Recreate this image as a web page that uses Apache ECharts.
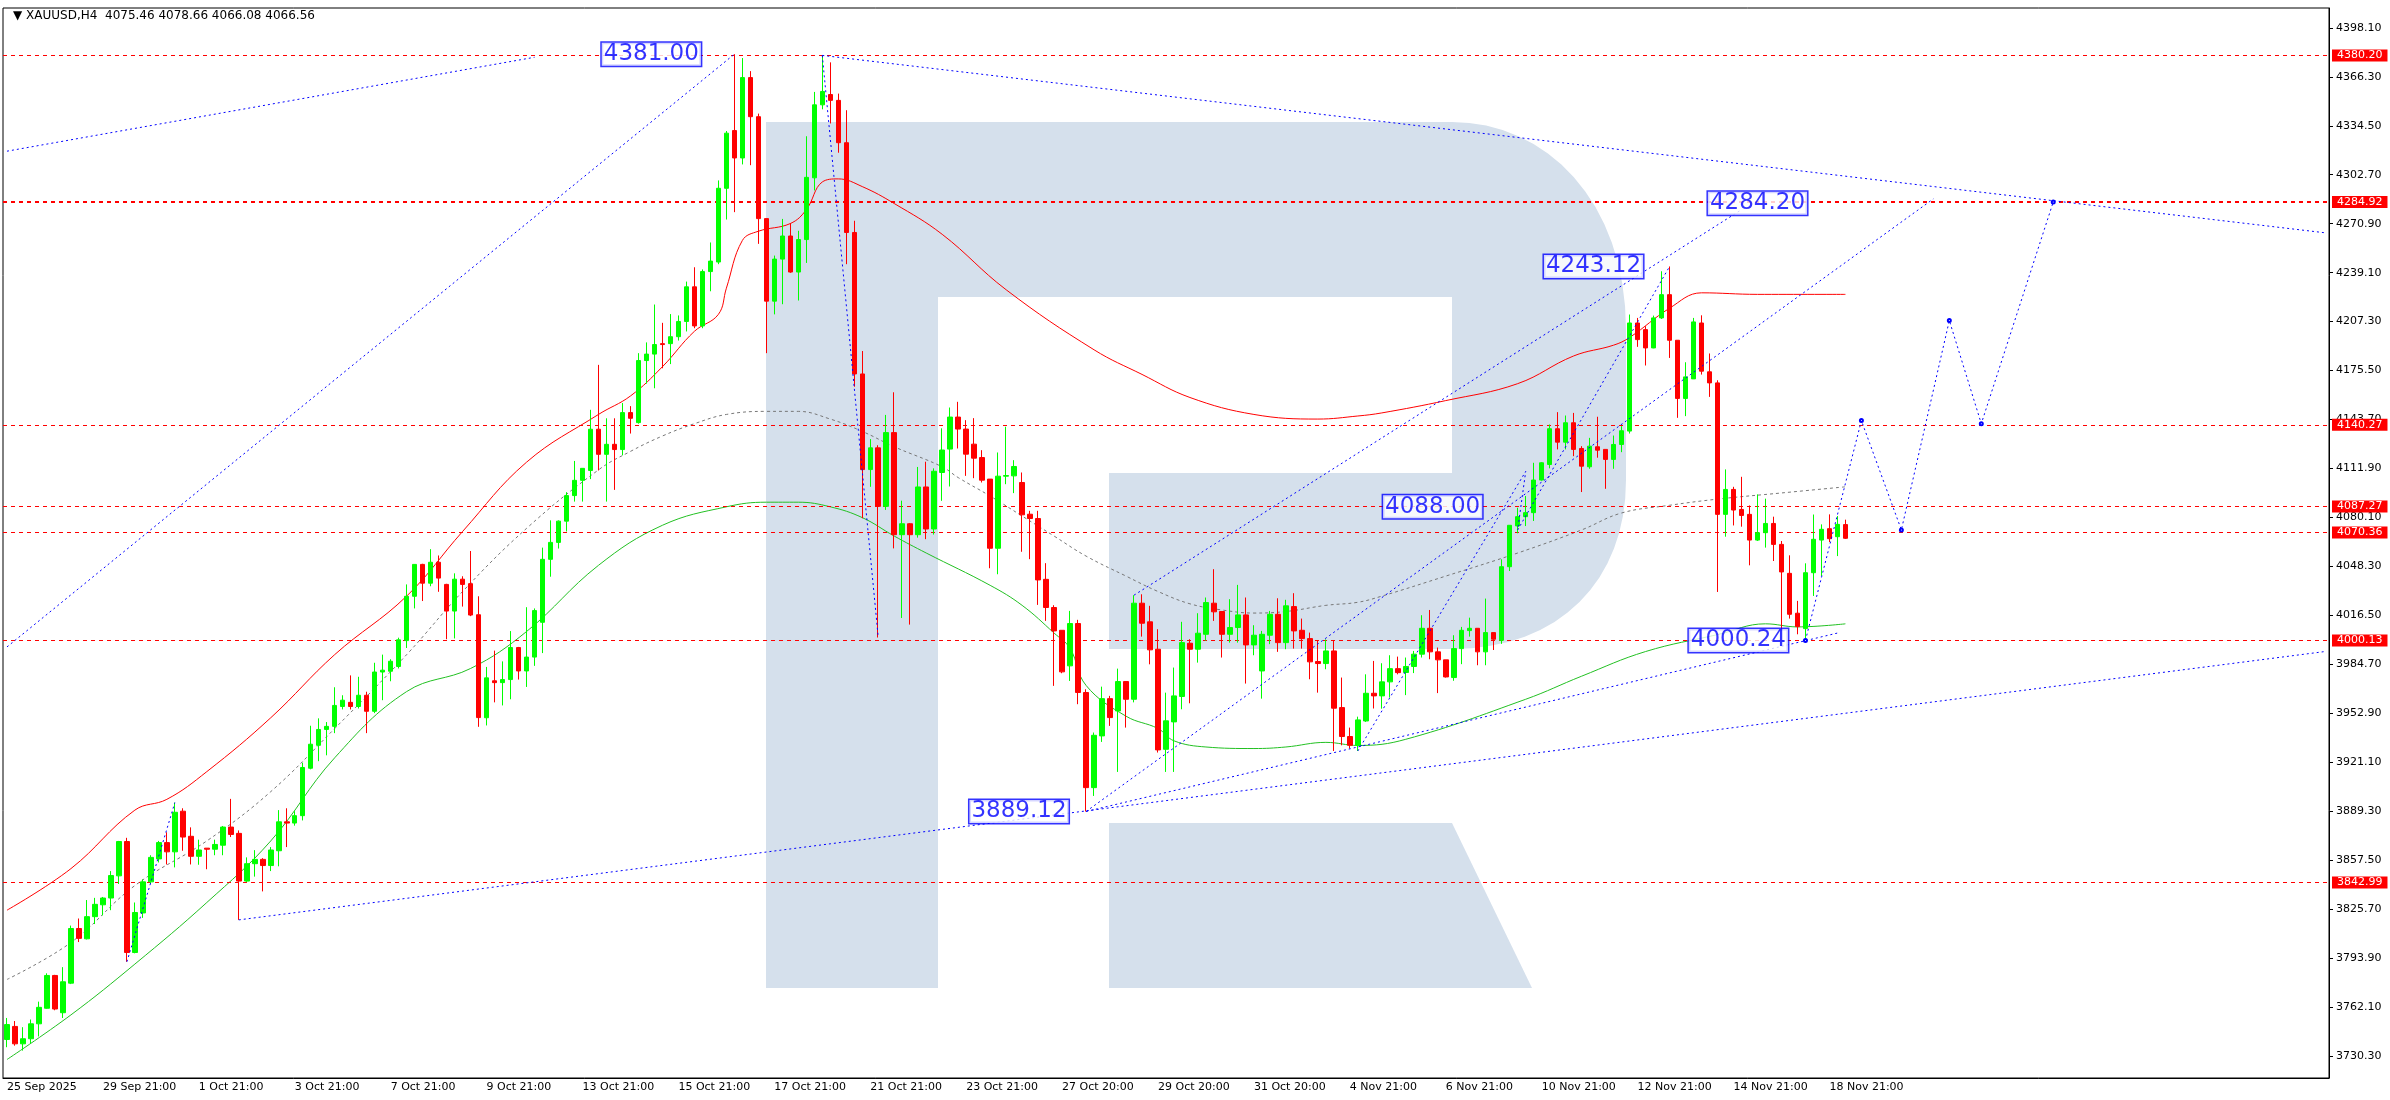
<!DOCTYPE html>
<html><head><meta charset="utf-8">
<script src="https://cdn.jsdelivr.net/npm/echarts@6/dist/echarts.min.js"></script>
<style>html,body{margin:0;padding:0;background:#fff}#c{width:2390px;height:1100px}</style>
</head><body><div id="c"></div>
<script>
const opens=[3741,3749.5,3738.2,3741.5,3751.2,3761.3,3782.6,3758.4,3777.6,3813.1,3806.4,3820.8,3828.5,3832.9,3847.3,3869.6,3797.5,3823.2,3843.4,3858.3,3868.9,3862.9,3889.3,3873,3860,3865.3,3864.6,3867.2,3879,3874.9,3843.9,3855.2,3858,3854,3863.6,3882.4,3881.6,3886.4,3917.2,3932.1,3942.4,3944.4,3957.3,3960,3957.3,3964.6,3954.2,3979.7,3980.2,3983.3,4000.1,4028.9,4049.6,4037.4,4051,4036.6,4019.3,4040,4037.1,4016.9,3950,3974,3972.8,3974.8,3995.6,3980.4,3989.4,4012,4052.9,4063.9,4077.7,4094.3,4104.2,4110.6,4137.4,4121.1,4127.6,4124.2,4148.2,4141.7,4182,4186.2,4193,4193,4197.5,4207.4,4229.9,4204.5,4239.8,4246,4293.9,4331.4,4313.6,4365.8,4340.4,4274.2,4220.6,4247.9,4262.9,4239.5,4260.6,4300.7,4348.1,4354.8,4351,4323.5,4265.2,4173.3,4111.2,4125.3,4087.3,4135.2,4068.9,4076,4068.9,4099.9,4072.6,4109.3,4124.5,4145.3,4137.5,4127.7,4119,4105,4060.1,4106.9,4107.1,4102.8,4082.2,4079.4,4039.9,4021.6,4006.8,3983.7,4011.2,3966.4,3904.6,3938.2,3962.4,3954.4,3973.5,3962,4024.4,4012.3,3994.5,3929.5,3947.3,3963.8,3998.4,3994.5,4004.2,4024.4,4019,4004.2,4008.6,4016.8,3997.3,3980.4,4003.6,4017.2,3998.8,4022.2,4006.8,4001.4,3986.5,3985.2,3993.4,3956.6,3937.8,3932.1,3947.9,3965.9,3964.2,3973.3,3981.9,3979.4,3983.3,3991.3,4008.1,3992.8,3987.6,3976.1,3994.9,4006.6,4008.1,3992.8,4005.3,4000.3,4048.1,4074.6,4080.6,4083.2,4104.4,4114.5,4137.7,4129,4141.6,4124.9,4113,4126,4124.3,4117.8,4127.5,4136.2,4206.4,4202.1,4190.2,4209.7,4224.8,4195.2,4157.4,4170.1,4206.4,4174.7,4167.5,4082.1,4098.3,4085.3,4082.1,4065.4,4070.2,4076.2,4062.6,4043.8,4017.9,4007.9,4044.2,4065.4,4072.8,4067.6,4075.46];
const closes=[3750.7,3738.2,3741.5,3751.2,3761.9,3782.6,3760.8,3778.5,3813.1,3806.7,3820.8,3828.8,3832.9,3847.5,3869.6,3797.5,3823.5,3843.4,3859.3,3868.9,3862.9,3888.6,3872.5,3860,3864.1,3864.6,3867.7,3879,3874.2,3843.9,3855.2,3858,3854,3864.1,3882.4,3881.6,3886.4,3917.7,3932.8,3942.4,3944.4,3958,3961.4,3957.3,3964.6,3954.2,3979.7,3980.9,3986.7,4000.6,4028.9,4049.6,4037.4,4051,4040.7,4019.3,4040,4036.6,4016.7,3950.1,3975.9,3972.8,3974.8,3995.6,3980.4,3989.4,4019.6,4052.9,4063.9,4077.7,4094.3,4104.2,4112,4137.4,4121.1,4127.6,4124.2,4148.2,4144.5,4182,4186.2,4192.4,4192.4,4197.5,4207.4,4229.9,4204.5,4239.8,4246.6,4293.9,4329.7,4313.6,4365.8,4340.4,4274.2,4220.6,4247.9,4262.9,4239.5,4260.6,4301,4348.1,4356.8,4351,4323.5,4265.2,4173.3,4111.2,4125.3,4087.3,4135.2,4068.9,4076,4068.9,4099.9,4072.6,4110.1,4123.9,4145.3,4137.5,4121.2,4118.6,4104.3,4060.1,4106.9,4107.3,4113.2,4081.8,4079.4,4039.5,4021.6,4006.4,3979.8,4011.2,3966.4,3904.6,3938.6,3962.4,3950.1,3973.5,3962,4024.4,4011.4,3994.1,3929.1,3948,3964.2,3998.8,3994.5,4004.9,4024.8,4018.8,4004.2,4008.6,4016.8,3997.3,4003.6,4004.2,4017.2,3998.8,4022.7,4006.4,4001.4,3986.3,3985.2,3993.4,3956.2,3937.8,3932.1,3948.6,3965.9,3964.2,3973.3,3981.9,3979.3,3983.3,3991.3,4008.1,3992.8,3987.6,3976.5,3994.9,4006.8,4008.1,3992.8,4005.3,4001,4048.1,4075,4080.6,4083.2,4104.4,4115.6,4137.7,4129,4141.6,4124.3,4113.4,4126.4,4123.8,4117.8,4127.5,4136.4,4206.4,4195.6,4190.2,4209.7,4224.8,4195.2,4157.4,4171.4,4207.1,4175.1,4167.5,4082.1,4098.3,4084.9,4081.4,4065.4,4070.2,4076.2,4062.6,4044.7,4017.2,4009.2,4044.2,4065.9,4072.4,4066.3,4075.6,4066.56];
const lows=[3736,3737,3733.8,3738.6,3743,3761,3760,3755,3777,3804.3,3806,3816,3821.6,3825,3842,3791.5,3797,3820,3842,3856,3854.7,3852.8,3863.6,3854.7,3854.5,3851.6,3860.7,3860.7,3872.5,3818.7,3843.2,3846.8,3837.2,3850.4,3853.5,3866,3879.9,3883.3,3916.5,3921.8,3925.6,3940,3955.4,3955.4,3956,3940,3953,3961.4,3973.7,3982,3995.3,4021,4025.8,4035.4,4031.8,4001,4001.5,4022.2,4016,3944.1,3945,3960,3958,3962,3974.8,3970,3983.7,3992,4041.6,4059.9,4071,4090.4,4090.4,4105,4110.6,4090.4,4098,4120.5,4134.6,4141,4167,4164,4177,4179.7,4195,4200.9,4203,4203,4227,4244.6,4273.6,4278.4,4309.4,4308.9,4257.8,4186.8,4212,4218.6,4239,4221,4245.4,4292.5,4345.2,4336,4317,4244.6,4165,4079.6,4100,4002.1,4085,4060,4014.8,4010.5,4067,4066,4069,4090.9,4100.2,4124.9,4107.1,4105.6,4102.8,4047.1,4043.2,4101.7,4095.9,4057.8,4053,4023.3,4012.9,3970.7,3978.9,3973.9,3958.8,3889.12,3899.2,3934.3,3944.7,3914.8,3943.6,3960,4002.7,3984.7,3927.4,3914.8,3914.8,3955.5,3959.4,3985.8,4000,4012.9,3989.1,3998.8,3998.8,3972.2,3990.6,3962.4,3997.8,3992.8,3994.5,3994.9,3994.9,3975,3966.3,3981.5,3928.4,3932.1,3930,3928.4,3947.3,3956,3955.9,3963.1,3978.2,3964.7,3979,3989.1,3988,3966,3976.1,3974,3984.8,4002.7,3984.1,3984.1,3994,3998,4045.3,4069.8,4074.5,4077.8,4104,4112,4124.3,4124.3,4119.9,4096.6,4111.7,4118.9,4098.7,4111.7,4122.5,4134.6,4190.9,4178.8,4190,4209,4183.7,4144.8,4145.9,4170,4172.9,4158.4,4031.7,4067.6,4074.9,4074.1,4049,4064.8,4060.5,4051.8,4006.4,4014.4,4004.2,4000.24,4029.1,4042.1,4064.1,4055,4066.08];
const highs=[3755,3753,3749,3754,3765.6,3784,3783,3788,3815,3819.6,3831.6,3833,3833.6,3850.4,3870,3872,3830,3845,3860.7,3870,3875.6,3894.9,3891.2,3878.8,3870.8,3865.3,3870.8,3879.7,3897.3,3876.8,3859.3,3864,3858.8,3866,3890,3891.2,3889.3,3920.8,3944.8,3949.6,3947.2,3969.8,3964.6,3977.5,3976.6,3966.9,3985.7,3991,3988,4002,4036.6,4049.6,4050,4059.5,4055.4,4037,4043.8,4041.9,4058.3,4028.9,3983,3993.6,3986.6,4006.3,3996,4021.8,4021,4060.5,4078.2,4078.2,4096.5,4116.8,4112,4150,4179.2,4144.5,4144.5,4154.4,4152.4,4186.8,4193.8,4218.4,4206.5,4212.2,4211.3,4233.3,4242.6,4241.2,4258.7,4299,4331.1,4381.0,4378.5,4370,4342.4,4274.2,4250.2,4274,4271.3,4266.3,4327.7,4356.5,4380.2,4375.7,4355.4,4344.6,4272.8,4188.2,4131,4127,4146.7,4161.4,4091,4076.5,4112.9,4116.3,4112,4138,4151.5,4155.2,4143.3,4144.6,4123.8,4105,4122.3,4139,4117.3,4109.3,4084.4,4084.4,4050.4,4023.1,4006.8,4019.4,4013.6,3968.5,3940.4,3970.2,3964.2,3981.9,3973.5,4029.6,4030.2,4022.7,4007.5,3966.3,3982.6,4012.3,4001,4017.9,4028.1,4046.5,4019,4027,4036.3,4028.1,4010.1,4006.4,4019.4,4027.6,4026.6,4030.9,4014.4,4005.3,4000,4000.9,4000,3976.1,3943.6,3950.7,3978.2,3986.9,3985.4,3990.6,3989.7,3989.1,3993.4,4016.6,4020,3995.6,3987.6,4003.6,4009,4015,4008.1,4027.4,4005.3,4052.9,4075,4086.4,4094,4115.6,4116,4140.5,4148.5,4146.3,4148,4126.4,4131.8,4145.5,4124.3,4133.3,4139.4,4211.9,4209.7,4204.3,4211.2,4240,4243.12,4195.2,4180.9,4209.7,4211.4,4186.6,4169.2,4111.3,4100,4106.5,4087.9,4095.1,4092.3,4080.6,4064.8,4055.5,4025.9,4050.3,4082,4075.6,4082.1,4081,4078.66];

const slotCount = 291;
const categories = Array.from({length: slotCount}, (_, i) => String(i));
const xTickLabels = ["25 Sep 2025","29 Sep 21:00","1 Oct 21:00","3 Oct 21:00","7 Oct 21:00","9 Oct 21:00","13 Oct 21:00","15 Oct 21:00","17 Oct 21:00","21 Oct 21:00","23 Oct 21:00","27 Oct 20:00","29 Oct 20:00","31 Oct 20:00","4 Nov 21:00","6 Nov 21:00","10 Nov 21:00","12 Nov 21:00","14 Nov 21:00","18 Nov 21:00"];
const yTicks = [3730.30,3762.10,3793.90,3825.70,3857.50,3889.30,3921.10,3952.90,3984.70,4016.50,4048.30,4080.10,4111.90,4143.70,4175.50,4207.30,4239.10,4270.90,4302.70,4334.50,4366.30,4398.10];
const levels = [4380.20,4284.92,4140.27,4087.27,4070.36,4000.13,3842.99];

const redMA=[[0,3825],[8,3852],[16,3890],[20,3897],[25,3915],[33,3950],[41,3991],[50,4029],[57,4071],[65,4116],[74,4147],[78,4159],[82,4178],[86,4201],[89,4212],[90,4229],[92,4260],[94,4266],[98,4271],[100,4280],[102,4298],[104,4300],[107,4295],[111,4284],[117,4264],[125,4228],[136,4189],[142,4173],[148,4158],[156,4147],[164,4144],[169,4146],[172,4148],[180,4156],[189,4167],[196,4185],[201,4192],[203,4197],[208,4216],[212,4226],[219,4225],[230,4225]];
const grayMA=[[0,3780],[8,3804],[16,3841],[25,3870],[33,3902],[41,3943],[50,3991],[57,4032],[65,4073],[74,4111],[78,4123],[82,4133],[86,4141],[90,4147],[95,4149],[99,4149],[103,4144],[107,4136],[111,4126],[117,4113],[119,4106],[123,4094],[127,4081],[131,4068],[135,4055],[140,4042],[144,4032],[148,4024],[152,4020],[156,4018],[160,4019],[165,4023],[169,4025],[172,4029],[180,4042],[189,4057],[197,4072],[202,4083],[208,4088],[214,4092],[222,4096],[230,4100]];
const greenMA=[[0,3728],[8,3757],[16,3790],[25,3830],[33,3870],[41,3924],[50,3967],[58,3982],[65,4006],[74,4049],[82,4075],[90,4087],[95,4090],[99,4090],[103,4087],[107,4080],[111,4068],[115,4057],[123,4036],[127,4023],[131,4005],[133,3995],[135,3971],[140,3951],[144,3943],[146,3935],[150,3931],[156,3930],[160,3931],[165,3934],[169,3932],[175,3936],[190,3962],[197,3977],[205,3993],[214,4004],[220,4011],[224,4009],[230,4011]];

const trendLines=[
 [[0,4318],[66,4379]],
 [[0,3996],[91,4381]],
 [[102,4380.2],[290,4265]],
 [[102,4380.2],[109,4002.1]],
 [[29,3818.7],[290,3993]],
 [[15,3791.5],[21,3894.9]],
 [[141,4029.6],[217,4280]],
 [[135,3889.1],[241,4287]],
 [[135,3889.1],[229,4005]],
 [[169,3928.4],[190,4110],[189,4072],[208,4243.1]]
];
const forecast=[[225,4000.2],[232,4143],[237,4072],[243,4208],[247,4141],[256,4285]];
const priceLabels=[
 {p:[91,4381.0],t:'4381.00',pos:'left',d:33},
 {p:[208,4243.1],t:'4243.12',pos:'left',d:26},
 {p:[219,4284.2],t:'4284.20',pos:'inside',d:0},
 {p:[188,4087.0],t:'4088.00',pos:'left',d:27},
 {p:[225,4000.2],t:'4000.24',pos:'left',d:17},
 {p:[135,3889.1],t:'3889.12',pos:'left',d:17}
];

function bez(p0,p1,p2,p3,n){const o=[];for(let k=1;k<=n;k++){const t=k/n,u=1-t;o.push([u*u*u*p0[0]+3*u*u*t*p1[0]+3*u*t*t*p2[0]+t*t*t*p3[0],u*u*u*p0[1]+3*u*u*t*p1[1]+3*u*t*t*p2[1]+t*t*t*p3[1]]);}return o;}
const bowl=[[938,122],[1452,122]].concat(bez([1452,122],[1545,122],[1626,200],[1626,330],16),[[1626,480]],bez([1626,480],[1626,580],[1560,649],[1452,649],16),[[1109,649],[1109,473],[1452,473],[1452,297],[938,297]]);

const FONT='DejaVu Sans';
const chart=echarts.init(document.getElementById('c'));
const series=[];
series.push({type:'candlestick',z:5,barWidth:5,
 data:opens.map((o,i)=>[o,closes[i],lows[i],highs[i]]),
 itemStyle:{color:'#00ff00',color0:'#ff0000',borderColor:'#00ff00',borderColor0:'#ff0000',borderWidth:1},
 markLine:{silent:true,symbol:['none','none'],animation:false,
  data:levels.map(v=>({yAxis:v,lineStyle:{color:'#ff0000',type:[4,4],width:v===4284.92?2:1}})),
  label:{show:true,position:'end',distance:3,formatter:p=>p.value.toFixed(2),backgroundColor:'#ff0000',color:'#fff',fontFamily:FONT,fontSize:11,padding:[1,5,0,5]}}
});
const lineBase={type:'line',showSymbol:false,symbol:'none',animation:false,z:4};
series.push(Object.assign({},lineBase,{data:redMA,smooth:0.4,lineStyle:{color:'#ff0000',width:1}}));
series.push(Object.assign({},lineBase,{data:grayMA,smooth:0.4,lineStyle:{color:'#777',width:1,type:[3,3]}}));
series.push(Object.assign({},lineBase,{data:greenMA,smooth:0.4,lineStyle:{color:'#22c022',width:1}}));
trendLines.forEach(tl=>series.push(Object.assign({},lineBase,{data:tl,z:6,lineStyle:{color:'#0000ff',width:1,type:[2,3]}})));
series.push({type:'line',data:forecast,z:6,animation:false,symbol:'emptyCircle',symbolSize:3,showSymbol:true,itemStyle:{color:'#0000ff'},lineStyle:{color:'#0000ff',width:1,type:[2,3]}});
priceLabels.forEach(l=>series.push({type:'scatter',z:7,symbolSize:1,itemStyle:{color:'rgba(0,0,0,0)'},data:[l.p],animation:false,
 label:{show:true,position:l.pos,distance:l.d,formatter:l.t,color:'#0000ff',fontFamily:FONT,fontSize:23,backgroundColor:'#fff',borderColor:'#0000ff',borderWidth:1.5,padding:[1,2,-1,2]}}));

chart.setOption({
 animation:false,
 title:{text:'\u25BC XAUUSD,H4  4075.46 4078.66 4066.08 4066.56',left:8,top:5,textStyle:{fontFamily:FONT,fontSize:12,fontWeight:'normal',color:'#000'}},
 graphic:[
  {type:'rect',z:-1,silent:true,shape:{x:766,y:122,width:172,height:866},style:{fill:'#d5e0ec'}},
  {type:'polygon',z:-1,silent:true,shape:{points:bowl},style:{fill:'#d5e0ec'}},
  {type:'polygon',z:-1,silent:true,shape:{points:[[1109,823],[1452,823],[1532,988],[1109,988]]},style:{fill:'#d5e0ec'}}
 ],
 grid:{left:3,right:61,top:8,bottom:22,show:true,borderColor:'#000',borderWidth:1,backgroundColor:'transparent'},
 xAxis:{type:'category',data:categories,boundaryGap:true,
  axisLine:{lineStyle:{color:'#000'}},
  axisTick:{alignWithLabel:true,interval:i=>i%12===0,length:4,lineStyle:{color:'#000'}},
  axisLabel:{interval:i=>i%12===0,formatter:(v,i)=>xTickLabels[i/12]||'',align:'left',margin:4,fontFamily:FONT,fontSize:11,color:'#000'},
  splitLine:{show:false}},
 yAxis:{type:'value',position:'right',min:3716,max:4411,scale:true,
  axisLine:{show:true,lineStyle:{color:'#000'}},
  axisTick:{show:true,length:4,customValues:yTicks,lineStyle:{color:'#000'}},
  axisLabel:{customValues:yTicks,formatter:v=>v.toFixed(2),margin:7,fontFamily:FONT,fontSize:11,color:'#000'},
  splitLine:{show:false}},
 series:series
});
</script></body></html>
